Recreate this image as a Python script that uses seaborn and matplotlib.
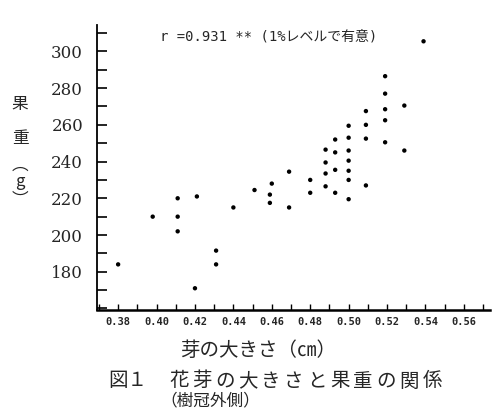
import matplotlib
matplotlib.use("Agg")
import matplotlib.pyplot as plt
from matplotlib.ticker import MultipleLocator
import seaborn as sns
import pandas as pd

# bud size (cm) vs fruit weight (g)
bud_size = [0.380, 0.398, 0.411, 0.411, 0.411, 0.421, 0.420, 0.431, 0.431, 0.440,
            0.451, 0.460, 0.459, 0.459, 0.469, 0.469, 0.480, 0.480,
            0.488, 0.488, 0.488, 0.488, 0.493, 0.493, 0.493, 0.493,
            0.500, 0.500, 0.500, 0.500, 0.500, 0.500, 0.500,
            0.509, 0.509, 0.509, 0.509,
            0.519, 0.519, 0.519, 0.519, 0.519,
            0.529, 0.529, 0.539]
fruit_weight = [184, 210, 220, 210, 202, 221, 171, 191.5, 184, 215,
                224.5, 228, 222, 217.5, 234.5, 215, 230, 223,
                246.5, 239.5, 233.5, 226.5, 252, 245, 235.5, 223,
                259.5, 253, 246, 240.5, 235, 230, 219.5,
                267.5, 260, 252.5, 227,
                286.5, 277, 268.5, 262.5, 250.5,
                270.5, 246, 305.5]

x_ticks = [0.38, 0.40, 0.42, 0.44, 0.46, 0.48, 0.50, 0.52, 0.54, 0.56]
x_ticklabels = ["0.38", "0.40", "0.42", "0.44", "0.46", "0.48", "0.50", "0.52", "0.54", "0.56"]
y_ticks = [180, 200, 220, 240, 260, 280, 300]

df = pd.DataFrame({"size": bud_size, "weight": fruit_weight})

sns.set_theme(style="ticks")
plt.rcParams["font.family"] = ["Noto Sans CJK JP", "DejaVu Sans"]

fig = plt.figure(figsize=(5, 4.16), dpi=100)
ax = fig.add_axes([0.194, 0.255, 0.786, 0.685])

sns.scatterplot(data=df, x="size", y="weight", color="black", s=10,
                edgecolor="none", ax=ax, legend=False)

ax.set_xlim(0.369, 0.5736)
ax.set_ylim(159.2, 314.4)
sns.despine(ax=ax)
ax.spines["left"].set_linewidth(1.3)
ax.spines["bottom"].set_linewidth(1.8)
ax.spines["left"].set_color("black")
ax.spines["bottom"].set_color("black")

ax.set_xticks(x_ticks)
ax.set_xticklabels(x_ticklabels, family="DejaVu Sans Mono", fontsize=7.5, weight="bold")
ax.xaxis.set_minor_locator(MultipleLocator(0.01))
ax.set_yticks(y_ticks)
ax.set_yticklabels([str(v) for v in y_ticks], family="DejaVu Serif", fontsize=12)
ax.yaxis.set_minor_locator(MultipleLocator(10))

ax.tick_params(axis="x", which="both", direction="in", length=4, width=1, pad=5, color="black")
ax.tick_params(axis="y", which="both", direction="in", length=7, width=1.2, pad=10, color="black")
ax.set_xlabel("")
ax.set_ylabel("")

fig.text(0.32, 1 - 37 / 416, "r =0.931 ** (1%レベルで有意)", fontsize=10,
         ha="left", va="center", family=["DejaVu Sans Mono", "Noto Sans CJK JP"])

# vertical y label
for ch, ypix in zip(["果", "重", "︵", "g", "︶"], [105, 138, 165, 182, 200]):
    fig.text(20 / 500, 1 - ypix / 416, ch, fontsize=12, ha="center", va="center")

fig.text(258 / 500, 1 - 351 / 416, "芽の大きさ（㎝）", fontsize=14, ha="center", va="center")

# caption, typewriter pitch
fig.text(108 / 500, 1 - 381 / 416, "図１", fontsize=14, ha="left", va="center")
for i, ch in enumerate("花芽の大きさと果重の関係"):
    fig.text((179 + 23 * i) / 500, 1 - 381 / 416, ch, fontsize=14, ha="center", va="center")
fig.text(210 / 500, 1 - 401 / 416, "（樹冠外側）", fontsize=12, ha="center", va="center")

fig.savefig("out.png", dpi=100)
